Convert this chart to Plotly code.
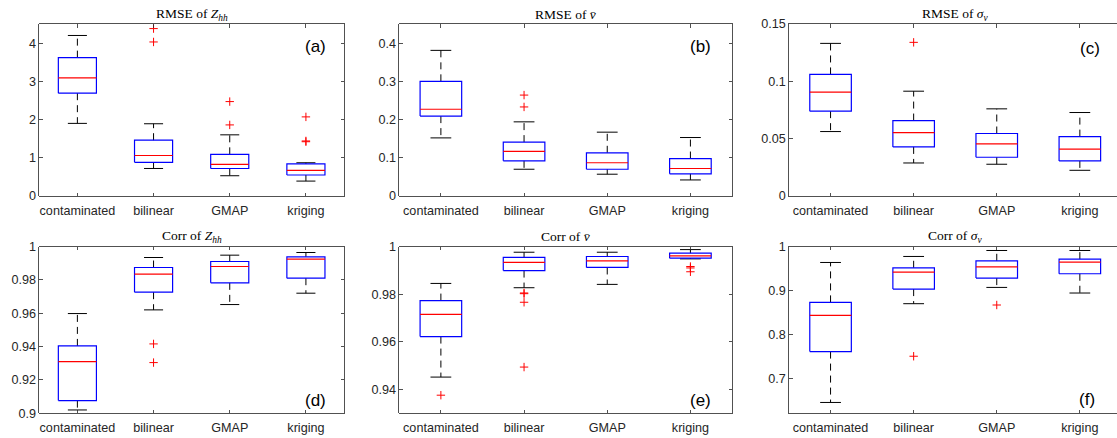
import plotly.graph_objects as go

categories = ["contaminated", "bilinear", "GMAP", "kriging"]

# (a) RMSE of Z_hh
rmse_zhh_lower = [1.90, 0.72, 0.53, 0.39]
rmse_zhh_q1 = [2.69, 0.88, 0.72, 0.55]
rmse_zhh_median = [3.09, 1.06, 0.83, 0.67]
rmse_zhh_q3 = [3.62, 1.46, 1.09, 0.84]
rmse_zhh_upper = [4.20, 1.89, 1.60, 0.87]
rmse_zhh_outliers = [[], [4.38, 4.03], [2.47, 1.86], [2.07, 1.44, 1.42]]

# (b) RMSE of v-bar
rmse_v_lower = [0.152, 0.070, 0.057, 0.042]
rmse_v_q1 = [0.209, 0.092, 0.070, 0.058]
rmse_v_median = [0.227, 0.117, 0.087, 0.072]
rmse_v_q3 = [0.300, 0.141, 0.113, 0.098]
rmse_v_upper = [0.381, 0.194, 0.167, 0.153]
rmse_v_outliers = [[], [0.264, 0.233], [], []]

# (c) RMSE of sigma_v
rmse_sv_lower = [0.0562, 0.0288, 0.0277, 0.0224]
rmse_sv_q1 = [0.0740, 0.0428, 0.0338, 0.0306]
rmse_sv_median = [0.0906, 0.0553, 0.0454, 0.0408]
rmse_sv_q3 = [0.1060, 0.0658, 0.0545, 0.0518]
rmse_sv_upper = [0.1331, 0.0914, 0.0760, 0.0728]
rmse_sv_outliers = [[], [0.134], [], []]

# (d) Corr of Z_hh
corr_zhh_lower = [0.9020, 0.9620, 0.9652, 0.9720]
corr_zhh_q1 = [0.9076, 0.9726, 0.9782, 0.9810]
corr_zhh_median = [0.9310, 0.9834, 0.9880, 0.9924]
corr_zhh_q3 = [0.9404, 0.9874, 0.9910, 0.9938]
corr_zhh_upper = [0.9598, 0.9934, 0.9948, 0.9964]
corr_zhh_outliers = [[], [0.9416, 0.9304], [], []]

# (e) Corr of v-bar
corr_v_lower = [0.9452, 0.9827, 0.9841, 0.9948]
corr_v_q1 = [0.9622, 0.9899, 0.9912, 0.9951]
corr_v_median = [0.9715, 0.9933, 0.9940, 0.9961]
corr_v_q3 = [0.9773, 0.9954, 0.9958, 0.9972]
corr_v_upper = [0.9845, 0.9976, 0.9976, 0.9987]
corr_v_outliers = [[0.9376], [0.9805, 0.9802, 0.9766, 0.9494], [], [0.9916, 0.9910, 0.9894]]

# (f) Corr of sigma_v
corr_sv_lower = [0.6447, 0.8697, 0.9068, 0.8940]
corr_sv_q1 = [0.7606, 0.9030, 0.9280, 0.9379]
corr_sv_median = [0.8432, 0.9417, 0.9538, 0.9644]
corr_sv_q3 = [0.8727, 0.9515, 0.9674, 0.9712]
corr_sv_upper = [0.9636, 0.9773, 0.9909, 0.9909]
corr_sv_outliers = [[], [0.750], [0.8667], []]

W, H = 1117, 438
BOX_HALF = 0.25
CAP_HALF = 0.125
AX_COLOR = "#262626"
TICK_FONT = dict(family="Liberation Sans, Arial, sans-serif", size=12.6, color=AX_COLOR)

panels = [
    dict(title="RMSE of <i>Z</i><sub><i>hh</i></sub>", label="(a)",
         stats=(rmse_zhh_lower, rmse_zhh_q1, rmse_zhh_median, rmse_zhh_q3, rmse_zhh_upper),
         outliers=rmse_zhh_outliers, yrange=[0, 4.5], yticks=[0, 1, 2, 3, 4],
         px=(39.3, 344.0), py=(24.0, 196.0), xmax=4.5, label_pos=(0.907, 0.87)),
    dict(title="RMSE of <i>v̄</i>", label="(b)",
         stats=(rmse_v_lower, rmse_v_q1, rmse_v_median, rmse_v_q3, rmse_v_upper),
         outliers=rmse_v_outliers, yrange=[0, 0.45], yticks=[0, 0.1, 0.2, 0.3, 0.4],
         px=(399.3, 732.0), py=(24.0, 196.0), xmax=4.5, label_pos=(0.905, 0.87)),
    dict(title="RMSE of <i>σ</i><sub><i>v</i></sub>", label="(c)",
         stats=(rmse_sv_lower, rmse_sv_q1, rmse_sv_median, rmse_sv_q3, rmse_sv_upper),
         outliers=rmse_sv_outliers, yrange=[0, 0.15], yticks=[0, 0.05, 0.1, 0.15],
         px=(789.0, 1117.0), py=(24.0, 196.0), xmax=0.5 + 328.0 / 83.1, label_pos=(0.917, 0.86)),
    dict(title="Corr of <i>Z</i><sub><i>hh</i></sub>", label="(d)",
         stats=(corr_zhh_lower, corr_zhh_q1, corr_zhh_median, corr_zhh_q3, corr_zhh_upper),
         outliers=corr_zhh_outliers, yrange=[0.9, 1.0], yticks=[0.9, 0.92, 0.94, 0.96, 0.98, 1],
         px=(39.3, 344.0), py=(246.5, 413.3), xmax=4.5, label_pos=(0.907, 0.075)),
    dict(title="Corr of <i>v̄</i>", label="(e)",
         stats=(corr_v_lower, corr_v_q1, corr_v_median, corr_v_q3, corr_v_upper),
         outliers=corr_v_outliers, yrange=[0.93, 1.0], yticks=[0.94, 0.96, 0.98, 1],
         px=(399.3, 732.0), py=(246.5, 413.3), xmax=4.5, label_pos=(0.905, 0.075)),
    dict(title="Corr of <i>σ</i><sub><i>v</i></sub>", label="(f)",
         stats=(corr_sv_lower, corr_sv_q1, corr_sv_median, corr_sv_q3, corr_sv_upper),
         outliers=corr_sv_outliers, yrange=[0.62, 1.0], yticks=[0.7, 0.8, 0.9, 1],
         px=(789.0, 1117.0), py=(246.5, 413.3), xmax=0.5 + 328.0 / 83.1, label_pos=(0.91, 0.08)),
]

fig = go.Figure()
layout = dict(
    width=W, height=H, margin=dict(l=0, r=0, t=0, b=0, autoexpand=False),
    paper_bgcolor="white", plot_bgcolor="white", showlegend=False,
    annotations=[],
)

for k, p in enumerate(panels):
    n = "" if k == 0 else str(k + 1)
    xa, ya = "x" + n, "y" + n
    lower, q1, med, q3, upper = p["stats"]
    pos = list(range(1, len(categories) + 1))

    # whiskers (dashed)
    wx, wy = [], []
    for i, c in enumerate(pos):
        wx += [c, c, None, c, c, None]
        wy += [q3[i], upper[i], None, q1[i], lower[i], None]
    fig.add_trace(go.Scatter(x=wx, y=wy, mode="lines", xaxis=xa, yaxis=ya,
                             line=dict(color="black", width=1, dash="7px,5px"), hoverinfo="skip"))
    # caps
    cx, cy = [], []
    for i, c in enumerate(pos):
        cx += [c - CAP_HALF, c + CAP_HALF, None, c - CAP_HALF, c + CAP_HALF, None]
        cy += [upper[i], upper[i], None, lower[i], lower[i], None]
    fig.add_trace(go.Scatter(x=cx, y=cy, mode="lines", xaxis=xa, yaxis=ya,
                             line=dict(color="black", width=1), hoverinfo="skip"))
    # boxes
    bx, by = [], []
    for i, c in enumerate(pos):
        bx += [c - BOX_HALF, c + BOX_HALF, c + BOX_HALF, c - BOX_HALF, c - BOX_HALF, None]
        by += [q1[i], q1[i], q3[i], q3[i], q1[i], None]
    fig.add_trace(go.Scatter(x=bx, y=by, mode="lines", xaxis=xa, yaxis=ya,
                             line=dict(color="blue", width=1.2), hoverinfo="skip"))
    # medians
    mx, my = [], []
    for i, c in enumerate(pos):
        mx += [c - BOX_HALF, c + BOX_HALF, None]
        my += [med[i], med[i], None]
    fig.add_trace(go.Scatter(x=mx, y=my, mode="lines", xaxis=xa, yaxis=ya,
                             line=dict(color="red", width=1.2), hoverinfo="skip"))
    # outliers
    ox, oy = [], []
    for i, c in enumerate(pos):
        for v in p["outliers"][i]:
            ox.append(c)
            oy.append(v)
    if ox:
        fig.add_trace(go.Scatter(x=ox, y=oy, mode="markers", xaxis=xa, yaxis=ya,
                                 marker=dict(symbol="cross-thin", size=6,
                                             line=dict(color="red", width=1)),
                                 hoverinfo="skip"))

    x0, x1 = p["px"]
    y0, y1 = p["py"]
    cropped = p["xmax"] < 4.5
    layout["xaxis" + n] = dict(
        domain=[x0 / W, x1 / W], anchor=ya, range=[0.5, p["xmax"]],
        tickvals=pos, ticktext=categories, ticks="inside", ticklen=3.5,
        tickcolor=AX_COLOR, tickwidth=0.8, ticklabelstandoff=3,
        showline=True, linecolor=AX_COLOR, linewidth=0.8, mirror="ticks",
        showgrid=False, zeroline=False, tickfont=TICK_FONT, automargin=False,
    )
    layout["yaxis" + n] = dict(
        domain=[1 - y1 / H, 1 - y0 / H], anchor=xa, range=p["yrange"],
        tickvals=p["yticks"], ticks="inside", ticklen=3.5,
        tickcolor=AX_COLOR, tickwidth=0.8,
        showline=True, linecolor=AX_COLOR, linewidth=0.8,
        mirror=False if cropped else "ticks",
        showgrid=False, zeroline=False, tickfont=TICK_FONT, automargin=False,
    )
    layout["annotations"].append(dict(
        text=p["title"], xref=xa + " domain", yref=ya + " domain",
        x=(0.5 if not cropped else 0.5 * (332.5 / 328.0)), y=1, xanchor="center", yanchor="middle",
        yshift=10, showarrow=False,
        font=dict(family="Liberation Serif, DejaVu Serif, serif", size=13.5, color="black"),
    ))
    lx, ly = p["label_pos"]
    layout["annotations"].append(dict(
        text=p["label"], xref=xa + " domain", yref=ya + " domain",
        x=lx, y=ly, xanchor="center", yanchor="middle", showarrow=False,
        font=dict(family="Liberation Sans, Arial, sans-serif", size=17, color="black"),
    ))

fig.update_layout(**layout)
fig.write_html(
    "out.html",
    config={"displayModeBar": False, "staticPlot": True},
    post_script="document.body.style.margin='0';document.body.style.padding='0';"
                "document.body.style.overflow='hidden';",
)
